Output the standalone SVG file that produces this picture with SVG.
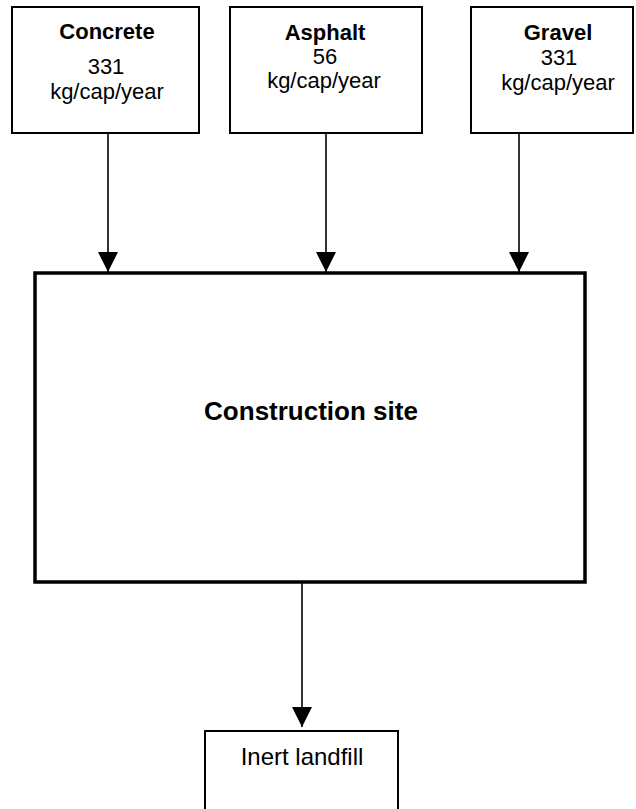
<svg xmlns="http://www.w3.org/2000/svg" width="636" height="809" viewBox="0 0 636 809">
  <defs>
    <marker id="arrow" markerWidth="20" markerHeight="20" refX="20" refY="10" orient="auto" markerUnits="userSpaceOnUse">
      <path d="M0,0 L20,10 L0,20 Z" fill="#000"/>
    </marker>
  </defs>
  <style>
    .box { fill: #fff; stroke: #000; stroke-width: 2; }
    .main { fill: #fff; stroke: #000; stroke-width: 3.5; }
    .title { font-family: "Liberation Sans", Arial, sans-serif; font-weight: bold; font-size: 22px; text-anchor: middle; fill: #000; }
    .val { font-family: "Liberation Sans", Arial, sans-serif; font-size: 22px; text-anchor: middle; fill: #000; }
    .edge { stroke: #000; stroke-width: 1.6; fill: none; marker-end: url(#arrow); }
  </style>
  <rect width="636" height="809" fill="#fff"/>

  <g id="connectors">
    <line class="edge" x1="108" y1="133" x2="108" y2="272"/>
    <line class="edge" x1="326" y1="133" x2="326" y2="272"/>
    <line class="edge" x1="519" y1="133" x2="519" y2="272"/>
    <line class="edge" x1="302" y1="582" x2="302" y2="727"/>
  </g>

  <g id="concrete">
    <rect class="box" x="12" y="7" width="187" height="126"/>
    <text class="title" x="107" y="39">Concrete</text>
    <text class="val" x="106" y="74">331</text>
    <text class="val" x="107" y="99">kg/cap/year</text>
  </g>

  <g id="asphalt">
    <rect class="box" x="230" y="7" width="192" height="126"/>
    <text class="title" x="325" y="40">Asphalt</text>
    <text class="val" x="325" y="64">56</text>
    <text class="val" x="324" y="88">kg/cap/year</text>
  </g>

  <g id="gravel">
    <rect class="box" x="471" y="7" width="162" height="126"/>
    <text class="title" x="558" y="40">Gravel</text>
    <text class="val" x="559" y="65">331</text>
    <text class="val" x="558" y="90">kg/cap/year</text>
  </g>

  <g id="construction-site">
    <rect class="main" x="35" y="273" width="550" height="309"/>
    <text class="title" x="311" y="420" style="font-size:26px">Construction site</text>
  </g>

  <g id="inert-landfill">
    <rect class="box" x="205" y="731" width="193" height="90"/>
    <text class="val" x="302" y="765" style="font-size:24px">Inert landfill</text>
  </g>
</svg>
